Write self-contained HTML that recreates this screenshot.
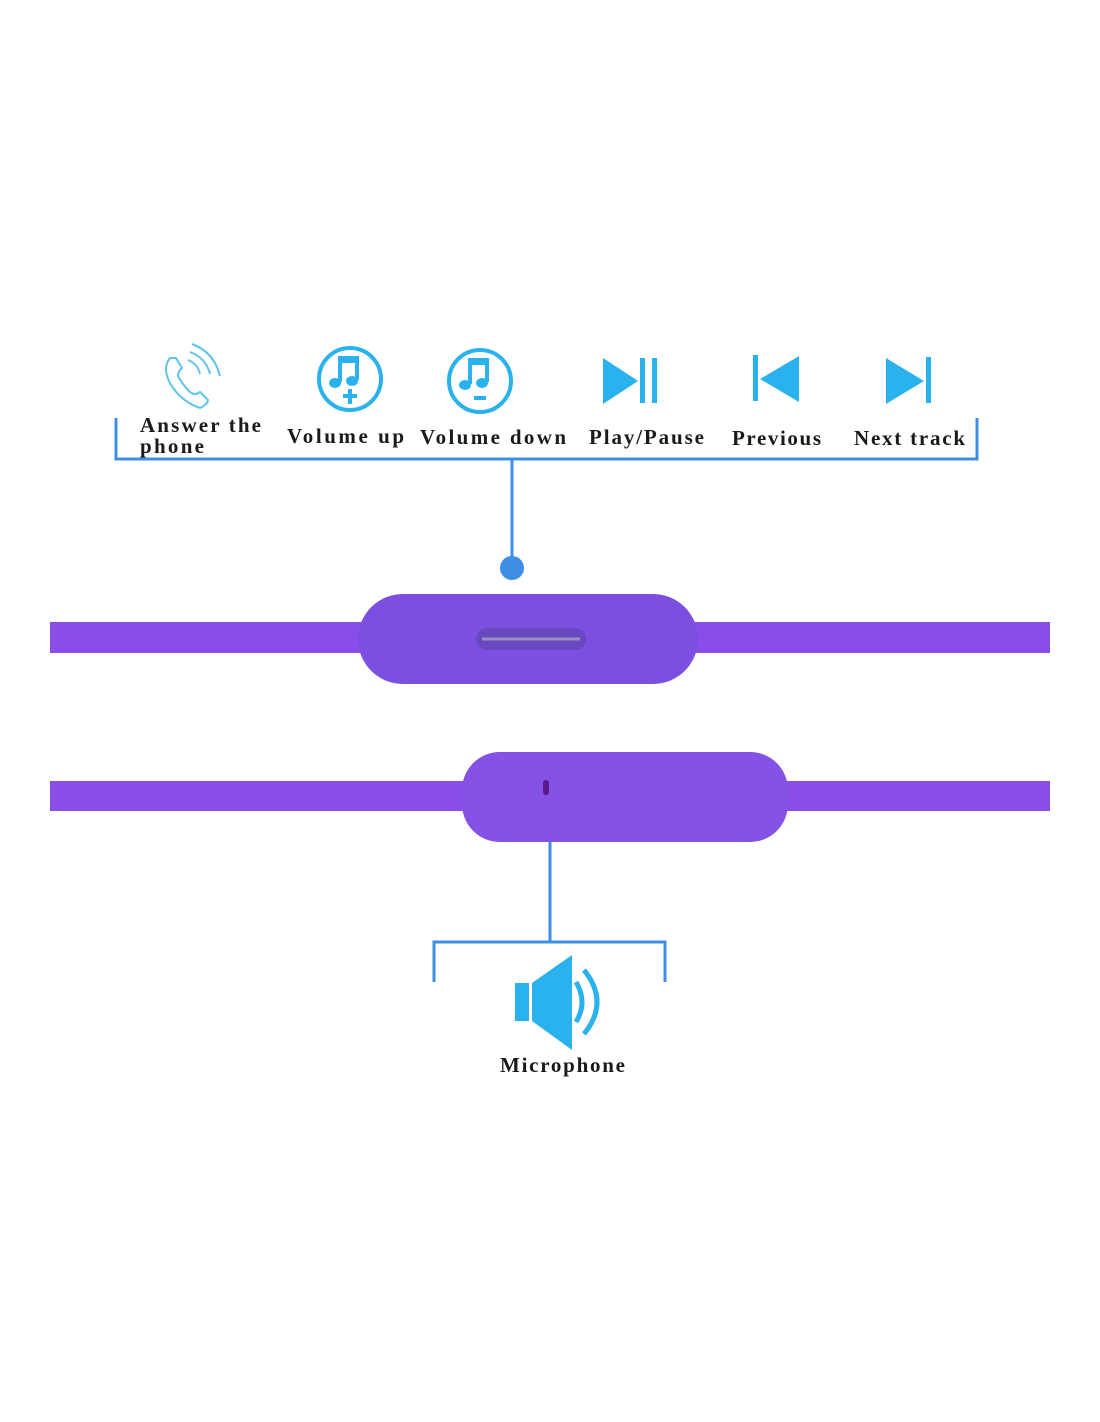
<!DOCTYPE html>
<html><head><style>html,body{margin:0;padding:0;background:#fff}</style></head>
<body>
<svg width="1100" height="1422" xmlns="http://www.w3.org/2000/svg" style="display:block">
<rect width="1100" height="1422" fill="#fff"/>
<g fill="none" stroke="#3d8fe6" stroke-width="3">
<polyline points="116,418 116,459 977,459 977,418"/>
<line x1="512" y1="459" x2="512" y2="566"/>
<line x1="550" y1="840" x2="550" y2="942"/>
<polyline points="434,982 434,942 665,942 665,982"/>
</g>
<circle cx="512" cy="568" r="12" fill="#3d8fe6"/>
<rect x="50" y="622" width="1000" height="31" fill="#8a4ee8"/>
<rect x="358" y="594" width="340" height="90" rx="45" fill="#7c4fe0"/>
<rect x="476" y="628" width="110" height="22" rx="11" fill="#6a48c0"/>
<line x1="482" y1="639" x2="580" y2="639" stroke="#9a90c0" stroke-width="3"/>
<rect x="50" y="781" width="1000" height="30" fill="#8a4ee8"/>
<rect x="462" y="752" width="326" height="90" rx="38" fill="#8452e4"/>
<rect x="543" y="780" width="6" height="15" rx="3" fill="#5a1a8a"/>
<g fill="none" stroke="#5ec4ee" stroke-width="2">
<path d="M170 358 q-8 10 0 25 q10 18 30 25 q8 -4 8 -8 l-8 -8 q-5 4 -10 0 q-8 -8 -12 -16 q0 -5 4 -8 l-6 -10 z"/>
<path d="M188 360 q10 4 12 14"/><path d="M190 352 q16 6 20 22"/><path d="M192 344 q22 8 28 32"/>
</g>
<g stroke="#29b2ee" stroke-width="4" fill="none">
<circle cx="350" cy="379" r="31"/><circle cx="480" cy="381" r="31"/>
</g>
<g fill="#29b2ee">
<rect x="338" y="358" width="4" height="24"/><rect x="355" y="358" width="4" height="22"/><rect x="338" y="356" width="21" height="7"/>
<ellipse cx="335" cy="383" rx="6" ry="5"/><ellipse cx="352" cy="381" rx="6" ry="5"/>
<rect x="348" y="389" width="4" height="15"/><rect x="343" y="394" width="14" height="4"/>
<rect x="468" y="360" width="4" height="24"/><rect x="485" y="360" width="4" height="22"/><rect x="468" y="358" width="21" height="7"/>
<ellipse cx="465" cy="385" rx="6" ry="5"/><ellipse cx="482" cy="383" rx="6" ry="5"/>
<rect x="474" y="396" width="12" height="4"/>
<polygon points="603,358 603,404 638,381"/><rect x="640" y="358" width="5" height="45"/><rect x="652" y="358" width="5" height="45"/>
<rect x="753" y="355" width="5" height="46"/><polygon points="799,356 799,402 760,379"/>
<polygon points="886,358 886,404 924,381"/><rect x="926" y="357" width="5" height="46"/>
<rect x="515" y="983" width="14" height="38"/><polygon points="532,983 572,955 572,1050 532,1021"/>
</g>
<path d="M576 982 q12 20 0 40" stroke="#29b2ee" stroke-width="5" fill="none"/>
<path d="M584 970 q26 32 0 64" stroke="#29b2ee" stroke-width="5" fill="none"/>
<g font-family="Liberation Serif, serif" font-weight="bold" font-size="21" fill="#1a1a1a" lengthAdjust="spacing">
<text x="140" y="432" textLength="121">Answer the</text>
<text x="140" y="453" textLength="64">phone</text>
<text x="287" y="443" textLength="117">Volume up</text>
<text x="420" y="444" textLength="146">Volume down</text>
<text x="589" y="444" textLength="115">Play/Pause</text>
<text x="732" y="445" textLength="89">Previous</text>
<text x="854" y="445" textLength="111">Next track</text>
<text x="500" y="1072" textLength="125">Microphone</text>
</g>
</svg>
</body></html>
